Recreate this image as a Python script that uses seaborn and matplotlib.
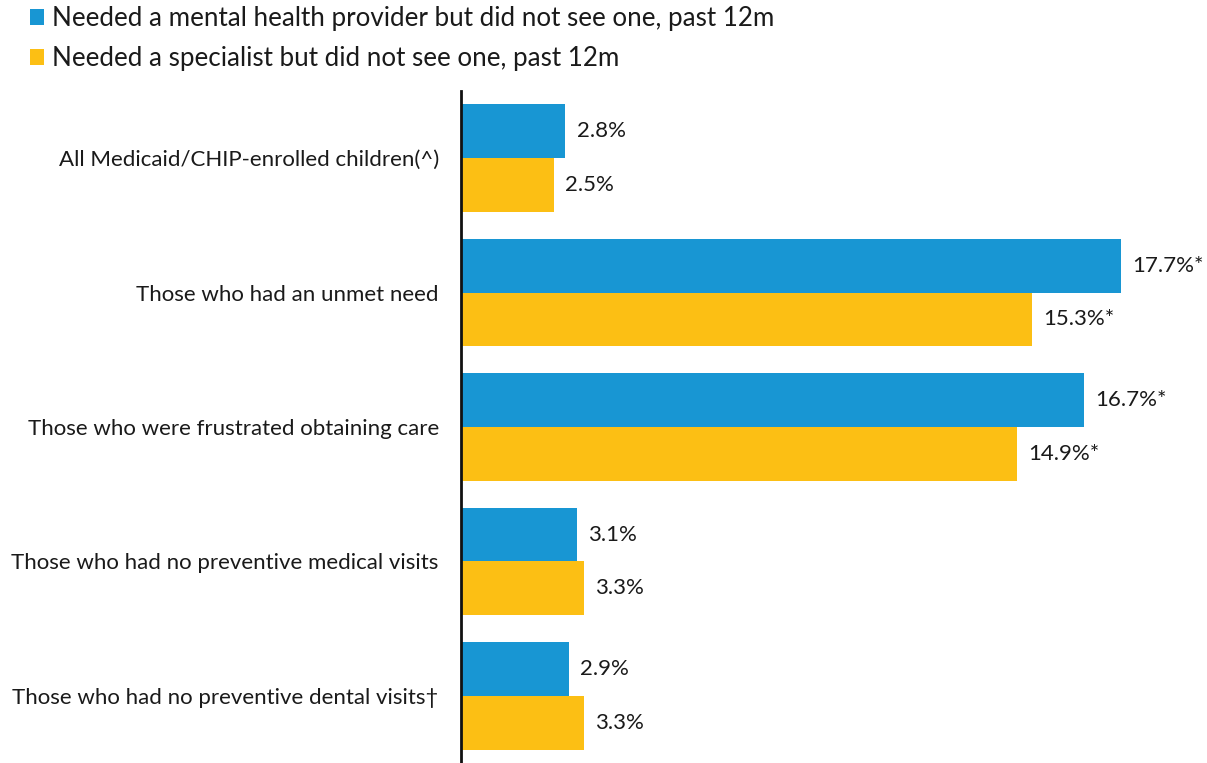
import matplotlib
matplotlib.use("Agg")
import matplotlib.pyplot as plt
from matplotlib.patches import Patch
import seaborn as sns
import pandas as pd

categories = [
    "All Medicaid/CHIP-enrolled children(^)",
    "Those who had an unmet need",
    "Those who were frustrated obtaining care",
    "Those who had no preventive medical visits",
    "Those who had no preventive dental visits\u2020",
]
series_names = [
    "Needed a mental health provider but did not see one, past 12m",
    "Needed a specialist but did not see one, past 12m",
]
mental_health = [2.8, 17.7, 16.7, 3.1, 2.9]
specialist = [2.5, 15.3, 14.9, 3.3, 3.3]
# significance markers shown after each value
mental_health_sig = ["", "*", "*", "", ""]
specialist_sig = ["", "*", "*", "", ""]

colors = ["#1896d3", "#fcbf14"]
text_color = "#1a1a1a"

df = pd.DataFrame({
    "category": categories * 2,
    "series": [series_names[0]] * len(categories) + [series_names[1]] * len(categories),
    "value": mental_health + specialist,
})

sns.set_theme(style="white")
plt.rcParams["font.family"] = ["Lato", "DejaVu Sans"]

fig = plt.figure(figsize=(12.07, 7.63), dpi=100)
ax = fig.add_axes([461 / 1207, 0.0, 1 - 461 / 1207, 1 - 91 / 763])

sns.barplot(
    data=df, x="value", y="category", hue="series",
    order=categories, hue_order=series_names,
    palette=colors, orient="h", width=0.8, saturation=1,
    edgecolor="none", linewidth=0, legend=False, ax=ax,
)

ax.set_xlim(0, 20)
ax.set_ylim(len(categories) - 0.5, -0.5)
ax.set_xlabel("")
ax.set_ylabel("")
ax.set_xticks([])
ax.tick_params(axis="y", length=0, pad=16, labelsize=16, labelcolor=text_color)

for side in ["top", "right", "bottom"]:
    ax.spines[side].set_visible(False)
ax.spines["left"].set_color("#111111")
ax.spines["left"].set_linewidth(2)

for container, vals, sig in zip(ax.containers,
                                [mental_health, specialist],
                                [mental_health_sig, specialist_sig]):
    labels = [f"{v:.1f}%{s}" for v, s in zip(vals, sig)]
    ax.bar_label(container, labels=labels, padding=8, fontsize=16, color=text_color)

handles = [Patch(facecolor=c, edgecolor="none") for c in colors]
fig.legend(
    handles, series_names, loc="upper left", bbox_to_anchor=(0.016, 1.006),
    frameon=False, fontsize=18.75, handlelength=0.56, handleheight=0.56,
    handletextpad=0.3, labelspacing=0.58, borderaxespad=0, labelcolor=text_color,
)

fig.savefig("out.png", dpi=100, facecolor="white")
